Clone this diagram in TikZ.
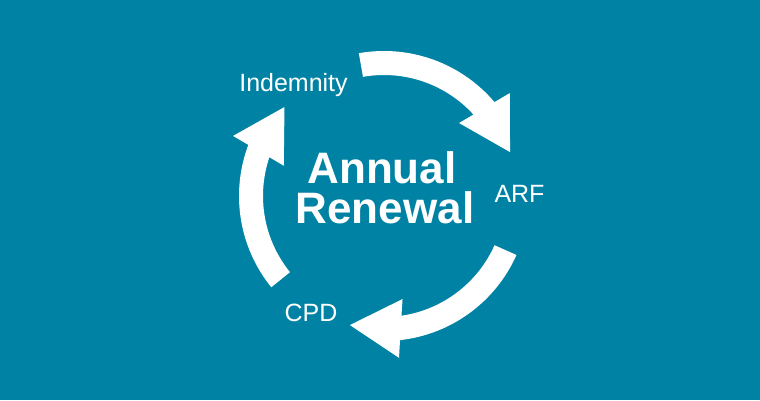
\documentclass[tikz,border=0pt]{standalone}
\usepackage{fontspec}
\setmainfont{Liberation Sans}
\definecolor{bgteal}{RGB}{0,130,164}
\tikzset{
  cyclearrow/.style={fill=white, draw=none},
  lbl/.style={text=white, font=\fontsize{25}{29}\selectfont, anchor=base, inner sep=0pt},
  ttl/.style={text=white, font=\fontsize{44}{44}\selectfont\bfseries, anchor=base, inner sep=0pt}
}
\begin{document}
\begin{tikzpicture}[x=1pt,y=1pt]
  \fill[bgteal] (-384,196) rectangle (376,-204);
  \useasboundingbox (-384,196) rectangle (376,-204);
  \foreach \T in {100,219,336}{
    \pgfmathsetmacro{\Ashaft}{\T-59.65}
    \pgfmathsetmacro{\Bout}{\T-60.7}
    \pgfmathsetmacro{\Tip}{\T-80.8}
    \pgfmathsetmacro{\Bin}{\T-55.8}
    \pgfmathsetmacro{\Ain}{\T-57.7}
    \fill[cyclearrow] (\T:121) -- (\T:145)
      arc[start angle=\T, end angle=\Ashaft, radius=145]
      -- (\Bout:162.5) -- (\Tip:133.5) -- (\Bin:104.7) -- (\Ain:121)
      arc[start angle=\Ain, end angle=\T, radius=121] -- cycle;
  }
  \node[ttl] (annual) at (-2,13) {Annual};
  \node[ttl] (renewal) at (1,-27) {Renewal};
  \node[lbl] (indemnity) at (-90.5,105) {Indemnity};
  \node[lbl] (arf) at (135.5,-6.5) {ARF};
  \node[lbl] (cpd) at (-73,-125.5) {CPD};
\end{tikzpicture}
\end{document}
